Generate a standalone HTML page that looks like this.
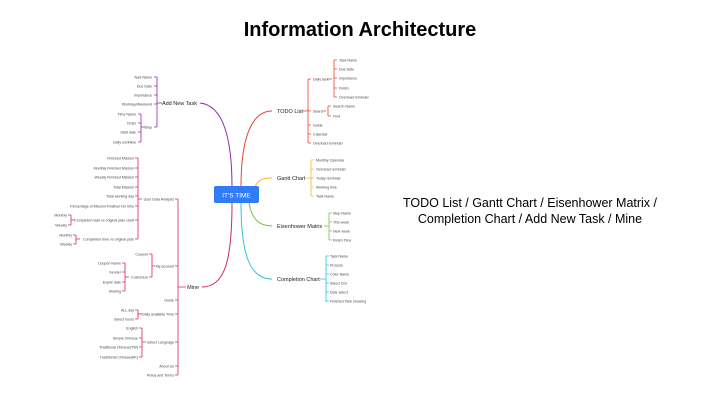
<!DOCTYPE html>
<html><head><meta charset="utf-8"><style>
html,body{margin:0;padding:0;background:#fff;}
svg{display:block;font-family:"Liberation Sans",sans-serif;}
.s{font-size:3.6px;fill:#444;}
.m{font-size:5.5px;fill:#222;}
</style></head><body>
<svg width="720" height="405" viewBox="0 0 720 405" xmlns="http://www.w3.org/2000/svg">
<text x="360" y="36" text-anchor="middle" font-size="20" font-weight="bold" fill="#000">Information Architecture</text>
<text x="530" y="207" text-anchor="middle" font-size="12.5" fill="#000">TODO List / Gantt Chart / Eisenhower Matrix /</text>
<text x="530" y="223" text-anchor="middle" font-size="12.5" fill="#000">Completion Chart / Add New Task / Mine</text>

<g fill="none" stroke-width="1">
<path d="M232,187 C232,130 220,105 200,103" stroke="#8e2ca8"/>
<path d="M241,187 C241,130 255,111 272,111" stroke="#e8452c"/>
<path d="M255,187 C258,180 262,178 272,178" stroke="#f5b82e"/>
<path d="M249,203 C252,220 260,226 272,226" stroke="#7cc245"/>
<path d="M241,203 C241,255 250,279 272,279" stroke="#2fc0e0"/>
<path d="M232,203 C232,260 225,287 202,287" stroke="#d6246e"/>
</g>

<rect x="214" y="186" width="45" height="17" rx="2" fill="#2f7cf6"/>
<text x="236.5" y="197.5" text-anchor="middle" font-size="6.5" fill="#fff">IT'S TIME</text>

<!-- TODO List -->
<text class="m" x="277" y="113">TODO List</text>
<g stroke="#e8452c" fill="none" stroke-width="0.8">
<path d="M302,111 H306 M308,79 V143 M306,111 Q308,111 308,109 M308,79 H311 M308,111 H311 M308,125 H311 M308,134 H311 M308,143 H311"/>
<path d="M328,79 H332 M334,60 V97 M334,60 H337 M334,69 H337 M334,78 H337 M334,88 H337 M334,97 H337"/>
<path d="M324,111 H326 M328,106 V116 M328,106 H331 M328,116 H331"/>
</g>
<text class="s" x="313" y="80.5">Daily task</text><text class="s" x="313" y="112.5">Search</text><text class="s" x="313" y="126.5">Guide</text><text class="s" x="313" y="135.5">Calendar</text><text class="s" x="313" y="144.5">Overload reminder</text>
<text class="s" x="339" y="61.5">Task Name</text><text class="s" x="339" y="70.5">Due Date</text><text class="s" x="339" y="79.5">Importance</text><text class="s" x="339" y="89.5">Finish</text><text class="s" x="339" y="98.5">Overload reminder</text>
<text class="s" x="333" y="107.5">Search Name</text><text class="s" x="333" y="117.5">Find</text>

<!-- Gantt -->
<text class="m" x="277" y="180">Gantt Chart</text>
<g stroke="#f5b82e" fill="none" stroke-width="0.8"><path d="M306,178 H311 M311,160 V196 M311,160 H314 M311,169 H314 M311,178 H314 M311,187 H314 M311,196 H314"/></g>
<text class="s" x="316" y="161.5">Monthly Calendar</text><text class="s" x="316" y="170.5">Overload reminder</text><text class="s" x="316" y="179.5">Today reminder</text><text class="s" x="316" y="188.5">Working time</text><text class="s" x="316" y="197.5">Task Name</text>

<!-- Eisenhower -->
<text class="m" x="277" y="228">Eisenhower Matrix</text>
<g stroke="#7cc245" fill="none" stroke-width="0.8"><path d="M324,226 H329 M329,213 V240 M329,213 H332 M329,222 H332 M329,231 H332 M329,240 H332"/></g>
<text class="s" x="333" y="214.5">Step Name</text><text class="s" x="333" y="223.5">This week</text><text class="s" x="333" y="232.5">Next week</text><text class="s" x="333" y="241.5">Finish Time</text>

<!-- Completion -->
<text class="m" x="277" y="281">Completion Chart</text>
<g stroke="#2fc0e0" fill="none" stroke-width="0.8"><path d="M320,279 H326 M326,256 V302 M326,256 H329 M326,265 H329 M326,274 H329 M326,283 H329 M326,292 H329 M326,301 H329"/></g>
<text class="s" x="330" y="257.5">Task Name</text><text class="s" x="330" y="266.5">Process</text><text class="s" x="330" y="275.5">Color Name</text><text class="s" x="330" y="284.5">Select Dot</text><text class="s" x="330" y="293.5">Date select</text><text class="s" x="330" y="302.5">Finished Task showing</text>

<!-- Add New Task -->
<text class="m" x="197" y="105" text-anchor="end">Add New Task</text>
<g stroke="#8e2ca8" fill="none" stroke-width="0.8">
<path d="M162,103 H157 M157,77 V127 M157,77 H154 M157,86 H154 M157,95 H154 M157,104 H154 M157,127 H154"/>
<path d="M145,127 H141 M141,114 V142 M141,114 H138 M141,123 H138 M141,132 H138 M141,142 H138"/>
</g>
<text class="s" x="152" y="78.5" text-anchor="end">Task Name</text><text class="s" x="152" y="87.5" text-anchor="end">Due Date</text><text class="s" x="152" y="96.5" text-anchor="end">Importance</text><text class="s" x="152" y="105.5" text-anchor="end">Workday/Weekend</text><text class="s" x="152" y="128.5" text-anchor="end">Step</text>
<text class="s" x="136" y="115.5" text-anchor="end">Time Name</text><text class="s" x="136" y="124.5" text-anchor="end">Order</text><text class="s" x="136" y="133.5" text-anchor="end">Start date</text><text class="s" x="136" y="143.5" text-anchor="end">Daily workflow</text>

<!-- Mine -->
<text class="m" x="199" y="289" text-anchor="end">Mine</text>
<g stroke="#d6246e" fill="none" stroke-width="0.8">
<path d="M186,287 H178 M178,199 V375 M178,199 H175 M178,266 H175 M178,300 H175 M178,314 H175 M178,342 H175 M178,366 H175 M178,375 H175"/>
<path d="M142,199 H138 M138,158 V239 M138,158 H135 M138,168 H135 M138,177 H135 M138,187 H135 M138,196 H135 M138,206 H135 M138,220 H135 M138,239 H135"/>
<path d="M75,220 H71 M71,215 V225 M71,215 H68 M71,225 H68"/>
<path d="M80,239 H76 M76,235 V244 M76,235 H73 M76,244 H73"/>
<path d="M155,266 H152 M152,254 V277 M152,254 H149 M152,277 H149"/>
<path d="M129,277 H125 M125,263 V291 M125,263 H122 M125,272 H122 M125,282 H122 M125,291 H122"/>
<path d="M142,314 H138 M138,310 V319 M138,310 H135 M138,319 H135"/>
<path d="M146,342 H142 M142,328 V357 M142,328 H139 M142,338 H139 M142,347 H139 M142,357 H139"/>
</g>
<text class="s" x="174" y="200.5" text-anchor="end">User Data Analysis</text>
<text class="s" x="174" y="267.5" text-anchor="end">My account</text>
<text class="s" x="174" y="301.5" text-anchor="end">Guide</text>
<text class="s" x="174" y="315.5" text-anchor="end">Daily available Time</text>
<text class="s" x="174" y="343.5" text-anchor="end">Select Language</text>
<text class="s" x="174" y="367.5" text-anchor="end">About Us</text>
<text class="s" x="174" y="376.5" text-anchor="end">Policy and Terms</text>
<text class="s" x="134" y="159.5" text-anchor="end">Finished Mission</text>
<text class="s" x="134" y="169.5" text-anchor="end">Monthly Finished Mission</text>
<text class="s" x="134" y="178.5" text-anchor="end">Weekly Finished Mission</text>
<text class="s" x="134" y="188.5" text-anchor="end">Total Mission</text>
<text class="s" x="134" y="197.5" text-anchor="end">Total working day</text>
<text class="s" x="134" y="207.5" text-anchor="end">Percentage of Mission Finished On time</text>
<text class="s" x="134" y="221.5" text-anchor="end">Completion task vs original plan chart</text>
<text class="s" x="134" y="240.5" text-anchor="end">Completion time vs original plan</text>
<text class="s" x="67" y="216.5" text-anchor="end">Monthly</text><text class="s" x="67" y="226.5" text-anchor="end">Weekly</text>
<text class="s" x="72" y="236.5" text-anchor="end">Monthly</text><text class="s" x="72" y="245.5" text-anchor="end">Weekly</text>
<text class="s" x="148" y="255.5" text-anchor="end">Coupon</text><text class="s" x="148" y="278.5" text-anchor="end">Customize</text>
<text class="s" x="121" y="264.5" text-anchor="end">Coupon Name</text><text class="s" x="121" y="273.5" text-anchor="end">Gender</text><text class="s" x="121" y="283.5" text-anchor="end">Expire date</text><text class="s" x="121" y="292.5" text-anchor="end">Sharing</text>
<text class="s" x="134" y="311.5" text-anchor="end">ALL day</text><text class="s" x="134" y="320.5" text-anchor="end">Select hours</text>
<text class="s" x="138" y="329.5" text-anchor="end">English</text><text class="s" x="138" y="339.5" text-anchor="end">Simple Chinese</text><text class="s" x="138" y="348.5" text-anchor="end">Traditional Chinese(TW)</text><text class="s" x="138" y="358.5" text-anchor="end">Traditional Chinese(HK)</text>
</svg>
</body></html>
